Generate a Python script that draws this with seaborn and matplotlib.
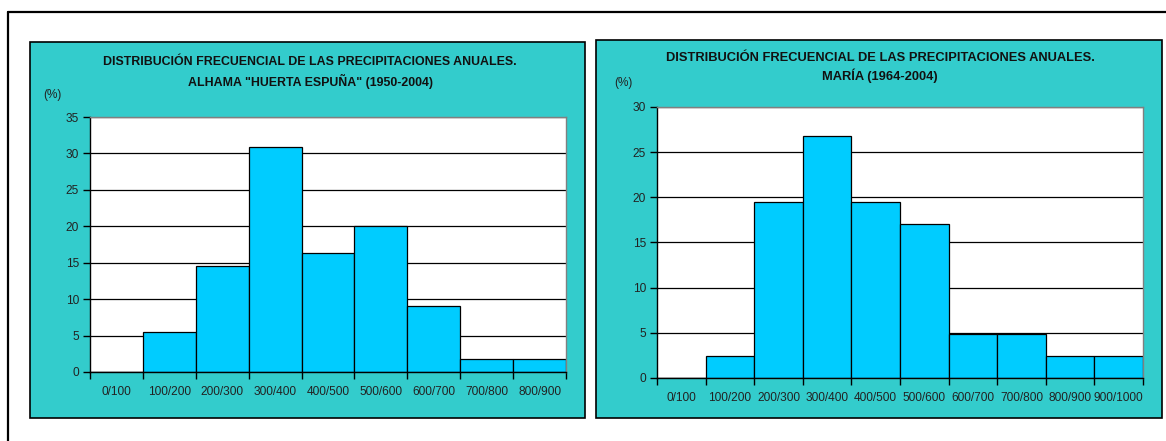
import numpy as np
import matplotlib
matplotlib.use("Agg")
import matplotlib.pyplot as plt
from matplotlib.patches import Rectangle
from matplotlib.lines import Line2D
import seaborn as sns

sns.set_theme(style="white")
plt.rcParams['font.family'] = ['Liberation Sans', 'DejaVu Sans']

# data: frequency (%) of annual rainfall by class (mm)
alhama_classes = ["0/100", "100/200", "200/300", "300/400", "400/500",
                  "500/600", "600/700", "700/800", "800/900"]
alhama_pct = [0, 5.45, 14.55, 30.9, 16.36, 20.0, 9.09, 1.82, 1.82]

maria_classes = ["0/100", "100/200", "200/300", "300/400", "400/500",
                 "500/600", "600/700", "700/800", "800/900", "900/1000"]
maria_pct = [0, 2.44, 19.51, 26.83, 19.51, 17.07, 4.88, 4.88, 2.44, 2.44]

W, H = 1166, 441
TEAL = "#33CCCC"
BAR = "#00CCFF"

fig = plt.figure(figsize=(W / 100, H / 100), dpi=100)


def px_rect(x0, y0, x1, y1):
    # pixel box (top-left origin) -> figure fraction [l, b, w, h]
    return [x0 / W, 1 - y1 / H, (x1 - x0) / W, (y1 - y0) / H]


# outer frame (only left and top visible)
fig.add_artist(Line2D([8 / W, 8 / W], [0, 1 - 12 / H], color="black", lw=1.6,
                      transform=fig.transFigure))
fig.add_artist(Line2D([8 / W, 1], [1 - 12 / H, 1 - 12 / H], color="black", lw=1.6,
                      transform=fig.transFigure))

panels = [
    dict(box=(30, 42, 585, 418), plot=(90, 117, 566, 372),
         classes=alhama_classes, vals=alhama_pct, ymax=35,
         title=["DISTRIBUCIÓN FRECUENCIAL DE LAS PRECIPITACIONES ANUALES.",
                'ALHAMA "HUERTA ESPUÑA" (1950-2004)'],
         tcx=310, ty=(62, 81), tfs=8.9, pct=(52, 95)),
    dict(box=(596, 40, 1162, 418), plot=(657, 107, 1143, 378),
         classes=maria_classes, vals=maria_pct, ymax=30,
         title=["DISTRIBUCIÓN FRECUENCIAL DE LAS PRECIPITACIONES ANUALES.",
                "MARÍA (1964-2004)"],
         tcx=880, ty=(58, 76), tfs=9.3, pct=(623, 83)),
]

for p in panels:
    l, b, w, h = px_rect(*p["box"])
    fig.add_artist(Rectangle((l, b), w, h, transform=fig.transFigure,
                             facecolor=TEAL, edgecolor="black", lw=1.2, zorder=0))

    ax = fig.add_axes(px_rect(*p["plot"]))
    ax.set_facecolor("white")
    sns.barplot(x=p["classes"], y=p["vals"], color=BAR, saturation=1,
                width=1, edgecolor="black", linewidth=0.9, ax=ax)
    n = len(p["classes"])
    ax.set_xlim(-0.5, n - 0.5)
    ax.set_ylim(0, p["ymax"])
    ax.set_yticks(np.arange(0, p["ymax"] + 1, 5))
    ax.set_axisbelow(True)
    ax.yaxis.grid(True, color="black", lw=0.9)
    ax.xaxis.grid(False)

    for side in ["top", "right"]:
        ax.spines[side].set_color("#808080")
        ax.spines[side].set_linewidth(1)
    for side in ["left", "bottom"]:
        ax.spines[side].set_color("black")
        ax.spines[side].set_linewidth(1)

    ax.set_xticks(np.arange(n))
    ax.set_xticklabels(p["classes"], fontsize=8.6, color="#222222")
    ax.set_xticks(np.arange(n + 1) - 0.5, minor=True)
    ax.tick_params(axis="x", which="major", length=0, pad=10)
    ax.tick_params(axis="x", which="minor", length=5, width=1, color="black",
                   direction="out", bottom=True)
    ax.tick_params(axis="y", length=5, width=1, color="black", direction="out",
                   left=True, labelsize=8.6, labelcolor="#222222", pad=3)
    ax.set_xlabel("")
    ax.set_ylabel("")

    for line, yy in zip(p["title"], p["ty"]):
        fig.text(p["tcx"] / W, 1 - yy / H, line, ha="center", va="center",
                 fontsize=p["tfs"], fontweight="bold", color="#111111")
    fig.text(p["pct"][0] / W, 1 - p["pct"][1] / H, "(%)", ha="center",
             va="center", fontsize=8.5, color="#222222")

fig.savefig("out.png", dpi=100)
